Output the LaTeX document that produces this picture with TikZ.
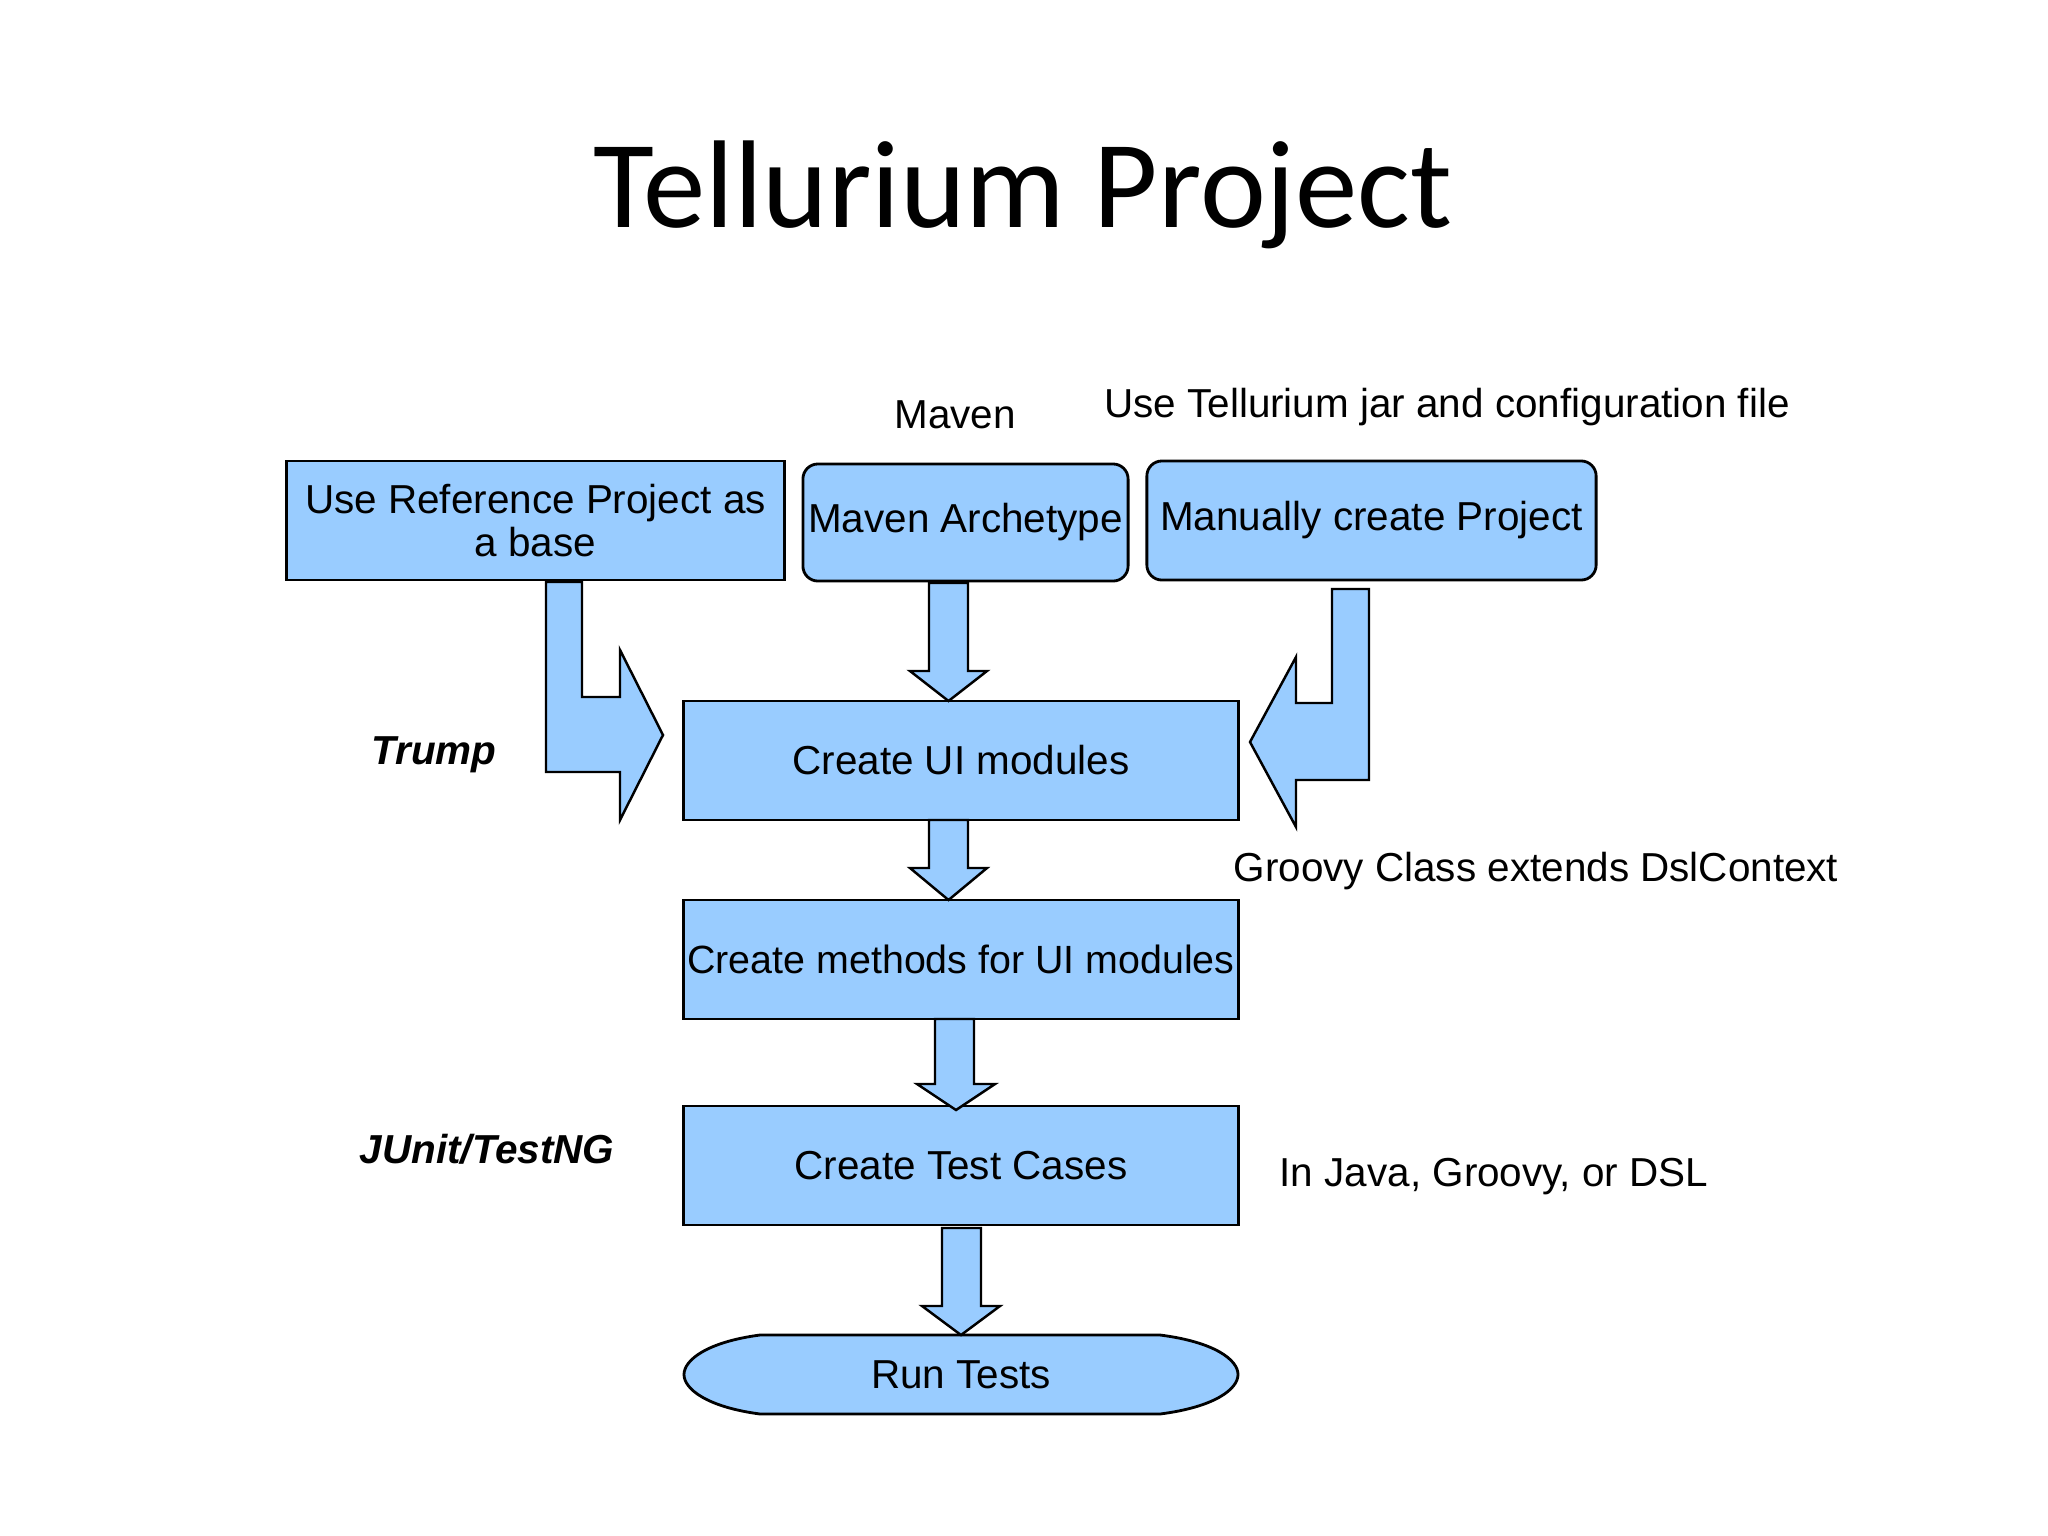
\documentclass[tikz,border=0pt]{standalone}
\usepackage{fontspec}
\setmainfont{Liberation Sans}
\newfontfamily\titlefont{Carlito}
\begin{document}
\begin{tikzpicture}[x=0.01cm,y=-0.01cm,
  fillc/.style={fill={rgb,255:red,153;green,204;blue,255}, draw=black, line width=0.8pt},
  box/.style={fillc, font=\fontsize{11.5}{11}\selectfont, inner sep=0pt, align=center},
  lbl/.style={font=\fontsize{11.5}{13}\selectfont},
  arr/.style={fillc, line width=0.7pt}]
\useasboundingbox (0,0) rectangle (2048,1536);
\node[font=\titlefont\fontsize{35.5}{40}\selectfont] (title) at (1023,195) {Tellurium Project};

\node[box, minimum width=4.97cm, minimum height=1.19cm, font=\fontsize{11.5}{12}\selectfont] (ref) at (535.5,520.5) {Use Reference Project as\\a base};
\node[box, rounded corners=0.15cm, minimum width=3.25cm, minimum height=1.17cm] (mav) at (965.5,522.5) {Maven Archetype};
\node[box, rounded corners=0.15cm, minimum width=4.49cm, minimum height=1.19cm] (man) at (1371.5,520.5) {Manually create Project};
\node[box, minimum width=5.54cm, minimum height=1.19cm] (ui) at (961,760.5) {Create UI modules};
\node[box, minimum width=5.54cm, minimum height=1.19cm, font=\fontsize{11.2}{11}\selectfont] (meth) at (961,959.5) {Create methods for UI modules};
\node[box, minimum width=5.54cm, minimum height=1.19cm] (tc) at (961,1165.5) {Create Test Cases};
\path[fillc] (760,1335) -- (1160,1335) .. controls (1215,1342) and (1238,1360) .. (1238,1374.5) .. controls (1238,1389) and (1215,1407) .. (1160,1414) -- (760,1414) .. controls (707,1407) and (684,1389) .. (684,1374.5) .. controls (684,1360) and (707,1342) .. (760,1335) -- cycle;
\node[lbl] (run) at (961,1374.5) {Run Tests};

% straight arrows
\path[arr] (929,583) -- (968,583) -- (968,671) -- (987,671) -- (948.5,701) -- (910,671) -- (929,671) -- cycle;
\path[arr] (929,820) -- (968,820) -- (968,868) -- (987,868) -- (948.5,900) -- (910,868) -- (929,868) -- cycle;
\path[arr] (935,1019) -- (974,1019) -- (974,1084) -- (995,1084) -- (956,1110) -- (917,1084) -- (935,1084) -- cycle;
\path[arr] (942,1228) -- (981,1228) -- (981,1306) -- (1000,1306) -- (961,1335) -- (922,1306) -- (942,1306) -- cycle;
% bent arrows
\path[arr] (546,582) -- (582,582) -- (582,697) -- (620,697) -- (620,650) -- (663,735) -- (620,820) -- (620,772) -- (546,772) -- cycle;
\path[arr] (1369,589) -- (1369,780) -- (1296,780) -- (1296,827) -- (1250,742) -- (1296,657) -- (1296,703) -- (1332,703) -- (1332,589) -- cycle;

\node[lbl] (lmav) at (955,415) {Maven};
\node[lbl] (ljar) at (1447,407) {Use Tellurium jar and configuration file};
\node[lbl, font=\fontsize{11.5}{13}\selectfont\bfseries\itshape] (ltr) at (434,755) {Trump};
\node[lbl] (lgr) at (1536,871) {Groovy Class extends DslContext};
\node[lbl, font=\fontsize{11.5}{13}\selectfont\bfseries\itshape] (lju) at (487,1149) {JUnit/TestNG};
\node[lbl] (ljava) at (1494,1177) {In Java, Groovy, or DSL};
\end{tikzpicture}
\end{document}
